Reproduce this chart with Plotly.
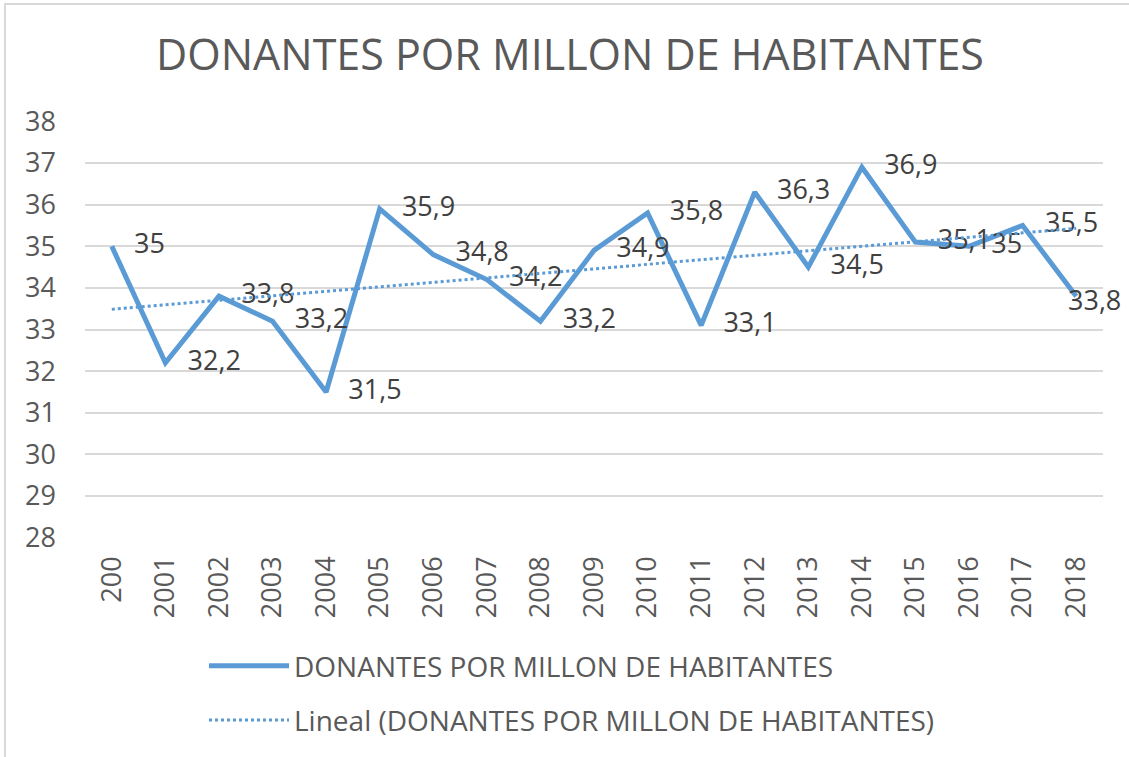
import numpy as np
import plotly.graph_objects as go

categories = ["200", "2001", "2002", "2003", "2004", "2005", "2006", "2007", "2008", "2009",
              "2010", "2011", "2012", "2013", "2014", "2015", "2016", "2017", "2018"]
values = [35, 32.2, 33.8, 33.2, 31.5, 35.9, 34.8, 34.2, 33.2, 34.9,
          35.8, 33.1, 36.3, 34.5, 36.9, 35.1, 35, 35.5, 33.8]
y_ticks = list(range(28, 39))
series_name = "DONANTES POR MILLON DE HABITANTES"

labels = [(f"{v:g}").replace(".", ",") for v in values]

# linear trend (least squares over category index)
idx = np.arange(1, len(values) + 1)
slope, intercept = np.polyfit(idx, values, 1)
trend = slope * idx + intercept

W, H = 1129, 757
L, R, T, B = 85, 1103, 121, 538
font = "Open Sans"
blue = "#5B9BD5"
fs = 27

trace_text = labels[:-1] + [""]

fig = go.Figure()
fig.add_trace(go.Scatter(
    x=categories, y=values, name=series_name, legendgroup="a",
    mode="lines+markers+text", text=trace_text, textposition="middle right",
    textfont=dict(size=fs, color="#404040", family=font),
    line=dict(color=blue, width=5),
    marker=dict(size=34, color="rgba(0,0,0,0)", line=dict(width=0)),
    cliponaxis=False,
))
fig.add_trace(go.Scatter(
    x=categories, y=trend, name="Lineal (" + series_name + ")", legendgroup="b",
    mode="lines", line=dict(color=blue, width=3, dash="dot"),
))
# last label, placed over its point as in the original
fig.add_annotation(x=len(categories) - 1, y=values[-1], text=labels[-1], showarrow=False,
                   xanchor="center", yanchor="middle", xshift=18, yshift=-3,
                   font=dict(size=fs, color="#404040", family=font))

def px(xp):
    return (xp - L) / (R - L)

def py(yp):
    return (B - yp) / (B - T)

fig.update_layout(
    width=W, height=H,
    margin=dict(l=L, r=W - R, t=T, b=H - B, autoexpand=False),
    paper_bgcolor="white", plot_bgcolor="white",
    title=dict(text=series_name, x=570 / W, xref="container", xanchor="center",
               y=1 - 55 / H, yanchor="middle",
               font=dict(size=43, color="#595959", family=font)),
    font=dict(family=font, color="#595959"),
    xaxis=dict(type="category", tickangle=-90, showgrid=False, showline=False,
               ticks="", ticklabelstandoff=12,
               tickfont=dict(size=fs, color="#595959", family=font),
               range=[-0.5, len(categories) - 0.5]),
    yaxis=dict(range=[27.99, 38.01], tickvals=y_ticks, showgrid=True,
               gridcolor="#D9D9D9", gridwidth=1.5, zeroline=False, showline=False,
               ticks="", ticklabelstandoff=28,
               tickfont=dict(size=fs, color="#595959", family=font)),
    legend=dict(x=px(204), y=py(641), xanchor="left", yanchor="top",
                traceorder="grouped", tracegroupgap=15, itemwidth=80,
                font=dict(size=28, color="#595959", family=font),
                bgcolor="rgba(0,0,0,0)"),
    showlegend=True,
)

fig.add_shape(type="rect", xref="paper", yref="paper",
              x0=px(5), x1=px(1140), y0=py(770), y1=py(4),
              line=dict(color="#D9D9D9", width=2), fillcolor="rgba(0,0,0,0)",
              layer="below")

fig.write_html("out.html", config={"displayModeBar": False},
               post_script="document.body.style.margin='0';")
